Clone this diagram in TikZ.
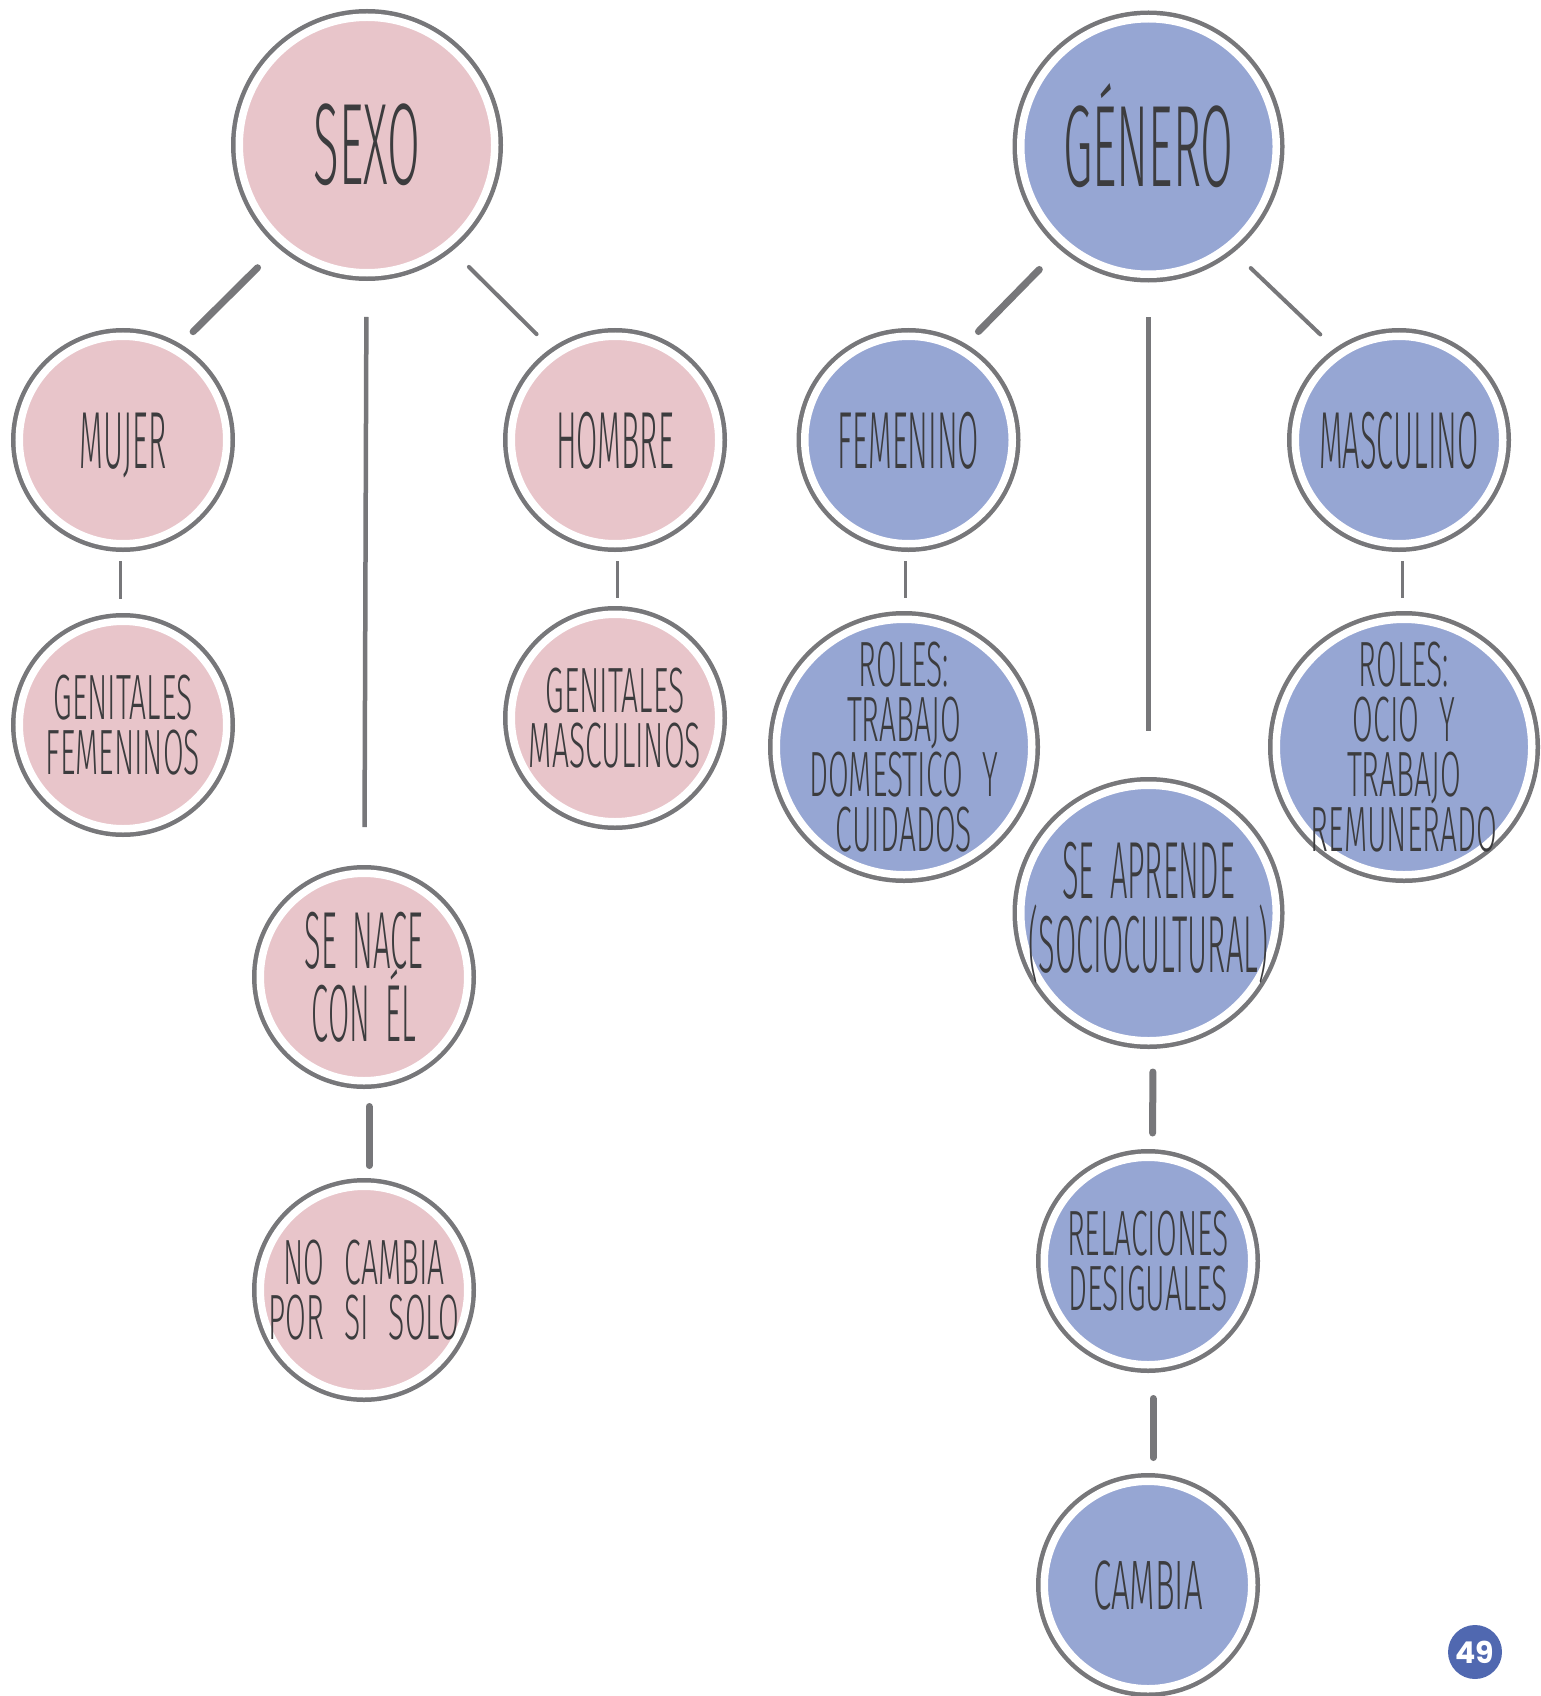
\documentclass[tikz,border=0pt]{standalone}
\usepackage{fontspec}
\usepackage{tikz}
\newfontfamily\handtitlefont{Fira Sans Light}[FakeStretch=0.41]
\newfontfamily\handfont{Fira Sans Light}[FakeStretch=0.38,WordSpace=1.8]
\newfontfamily\handsmallfont{Fira Sans Light}[FakeStretch=0.47,WordSpace=2.4]
\newfontfamily\pagefont{Poppins}
\definecolor{SGPink}{HTML}{E8C5CA}
\definecolor{SGBlue}{HTML}{96A6D3}
\definecolor{SGRing}{HTML}{77777A}
\definecolor{SGInk}{HTML}{3C3C3E}
\definecolor{SGPage}{HTML}{5068B0}
\tikzset{
  bubble/.style={
    circle,
    inner sep=0pt,
    outer sep=8.25pt,
    draw=white,
    line width=7.5pt,
    preaction={draw=SGRing,line width=16.5pt}
  },
  bigbubble/.style={bubble,minimum size=255.5pt},
  smallbubble/.style={bubble,minimum size=207.5pt},
  sexobubble/.style={fill=SGPink},
  generobubble/.style={fill=SGBlue},
  bubbletext/.style={text=SGInk,align=center,inner sep=0pt},
  titlefont/.style={bubbletext,text height=80pt,text depth=0pt,
    font=\handtitlefont\fontsize{116}{120}\selectfont},
  midfont/.style={bubbletext,font=\handfont\fontsize{81}{73.5}\selectfont},
  midline/.style={midfont,text height=56pt,text depth=0pt},
  smallfont/.style={bubbletext,font=\handsmallfont\fontsize{64}{55}\selectfont},
  link/.style={draw=SGRing,line width=4.5pt},
  thinlink/.style={draw=SGRing,line width=3pt},
  thicklink/.style={draw=SGRing,line width=7pt,line cap=round},
  slantlink/.style={draw=SGRing,line width=4pt,line cap=round}
}

\begin{document}
\begin{tikzpicture}[x=1pt,y=-1pt]
  \useasboundingbox (0,0) rectangle (1540,1696);

  % sexo
  \node[bigbubble,sexobubble,label={[titlefont]center:SEXO}] (sexo) at (367,145) {};
  \node[smallbubble,sexobubble,label={[midline]center:MUJER}] (mujer) at (123,440) {};
  \node[smallbubble,sexobubble,label={[midline]center:HOMBRE}] (hombre) at (615,440) {};
  \node[smallbubble,sexobubble,label={[smallfont]center:GENITALES\\FEMENINOS}] (genfem) at (123,725) {};
  \node[smallbubble,sexobubble,label={[smallfont]center:GENITALES\\MASCULINOS}] (genmasc) at (615,718) {};
  \node[smallbubble,sexobubble,label={[midfont]center:SE NACE\\CON ÉL}] (nace) at (364,977) {};
  \node[smallbubble,sexobubble,label={[smallfont]center:NO CAMBIA\\POR SI SOLO}] (nocambia) at (364,1290) {};

  % genero
  \node[bigbubble,generobubble,label={[titlefont]center:GÉNERO}] (genero) at (1148.5,146.5) {};
  \node[smallbubble,generobubble,label={[midline]center:FEMENINO}] (femenino) at (908.5,440) {};
  \node[smallbubble,generobubble,label={[midline]center:MASCULINO}] (masculino) at (1399,440) {};
  \node[bigbubble,generobubble,label={[smallfont]center:ROLES:\\TRABAJO\\DOMESTICO Y\\CUIDADOS}]
    (rolesfem) at (904,747) {};
  \node[bigbubble,generobubble,label={[smallfont]center:ROLES:\\OCIO Y\\TRABAJO\\REMUNERADO}]
    (rolesmasc) at (1404,747) {};
  \node[bigbubble,generobubble,label={[midfont]center:SE APRENDE\\(SOCIOCULTURAL)}] (aprende) at (1148.5,913) {};
  \node[smallbubble,generobubble,label={[smallfont]center:RELACIONES\\DESIGUALES}] (relaciones) at (1148,1261) {};
  \node[smallbubble,generobubble,label={[smallfont,text height=48pt,text depth=0pt,
    font=\handsmallfont\fontsize{70}{60}\selectfont]center:CAMBIA}] (cambia) at (1148,1585) {};

  \node[circle,fill=SGPage,minimum size=54pt,inner sep=0pt,text=white,
    font=\pagefont\bfseries\fontsize{30}{30}\selectfont] (pagina) at (1475,1652) {49};

  % links
  \draw[thicklink,shorten <=28.5pt,shorten >=17.5pt] (sexo.229) -- (mujer.59);
  \draw[slantlink,shorten <=23pt,shorten >=20pt] (sexo.309) -- (hombre.125);
  \draw[link,shorten <=36pt,shorten >=38pt] (sexo) -- (nace);
  \draw[thinlink,shorten <=9pt,shorten >=14.5pt] ([xshift=-3pt]mujer.south) -- ([xshift=-3pt]genfem.north);
  \draw[thinlink,shorten <=9pt,shorten >=8pt] ([xshift=2.5pt]hombre.south) -- ([xshift=2.5pt]genmasc.north);
  \draw[thicklink,shorten <=17.5pt,shorten >=12.5pt] ([xshift=5pt]nace.south) -- ([xshift=5pt]nocambia.north);

  \draw[thicklink,shorten <=28.5pt,shorten >=17.5pt] (genero.229) -- (femenino.59);
  \draw[slantlink,shorten <=23pt,shorten >=20pt] (genero.309) -- (masculino.125);
  \draw[link,shorten <=34.5pt,shorten >=46pt] (genero) -- (aprende);
  \draw[thinlink,shorten <=9pt,shorten >=13pt] ([xshift=-3.5pt]femenino.south) -- ([xshift=1pt]rolesfem.north);
  \draw[thinlink,shorten <=9pt,shorten >=13pt] ([xshift=3.7pt]masculino.south) -- ([xshift=-1.3pt]rolesmasc.north);
  \draw[thicklink,shorten <=23pt,shorten >=16pt] ([xshift=4.5pt]aprende.south) -- ([xshift=4.5pt]relaciones.north);
  \draw[thicklink,shorten <=25.5pt,shorten >=15.5pt] ([xshift=5pt]relaciones.south) -- ([xshift=5pt]cambia.north);
\end{tikzpicture}
\end{document}
